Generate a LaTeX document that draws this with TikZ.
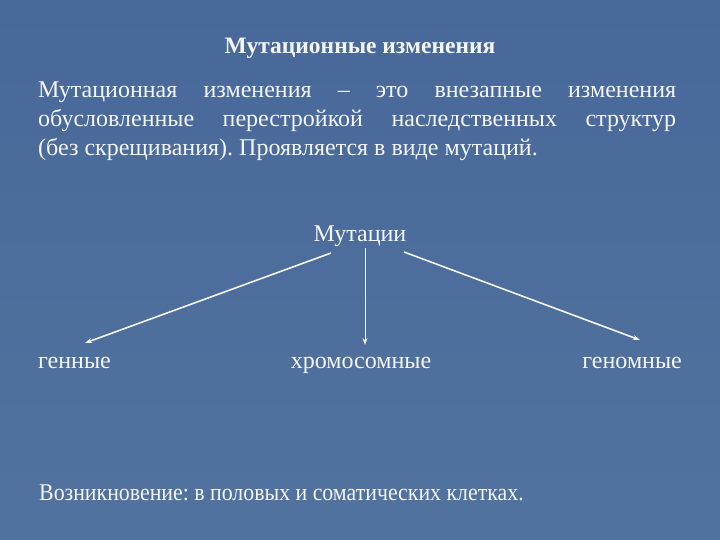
\documentclass[tikz,border=0pt]{standalone}
\usepackage{fontspec}
\setmainfont{Liberation Serif}
\newfontfamily\narrowserif[FakeStretch=0.91]{Liberation Serif}
\usetikzlibrary{arrows.meta}
\frenchspacing
\definecolor{bgtop}{HTML}{48689A}
\definecolor{bgbot}{HTML}{52729E}
\definecolor{txt}{HTML}{F4F6FA}
\tikzset{
  lbl/.style={text=txt, inner sep=0pt, font=\fontsize{24}{29}\selectfont},
  narrowlbl/.style={text=txt, inner sep=0pt, font=\narrowserif\fontsize{24}{29}\selectfont},
  ttl/.style={text=txt, inner sep=0pt, font=\fontsize{23.5}{28}\selectfont\bfseries},
  arr/.style={draw=txt, line width=1.6pt, -{Stealth[length=7pt,width=5pt]}},
  arrthin/.style={draw=txt, line width=0.9pt, -{Stealth[length=7pt,width=5pt]}}
}
\begin{document}
\begin{tikzpicture}[x=1pt,y=-1pt]
\useasboundingbox (0,0) rectangle (720,540);
\shade[top color=bgtop, bottom color=bgbot] (0,0) rectangle (720,540);

\node[ttl, anchor=base] (title) at (360,54) {Мутационные изменения};

\node[lbl, anchor=base west, text width=638pt, align=justify] (def) at (38,98)
{\tolerance=10000\hyphenpenalty=10000\frenchspacing
Мутационная изменения – это внезапные изменения\linebreak
обусловленные перестройкой наследственных структур\linebreak
(без скрещивания). Проявляется в виде мутаций.};

\node[lbl, anchor=base] (mut) at (360,241) {Мутации};

\node[lbl, anchor=base west] (gen) at (38,368) {генные};
\node[lbl, anchor=base] (chr) at (361,368) {хромосомные};
\node[lbl, anchor=base east] (genom) at (682,368) {геномные};

\node[narrowlbl, anchor=base west] (voz) at (39,500) {Возникновение: в половых и соматических клетках.};

\coordinate (sl) at (331,253);
\coordinate (sm) at (365,248);
\coordinate (sr) at (404,252);
\coordinate (tl) at (85,343);
\coordinate (tm) at (365,345);
\coordinate (tr) at (640,340);

\draw[arr] (sl) -- (tl);
\draw[arrthin] (sm) -- (tm);
\draw[arr] (sr) -- (tr);
\end{tikzpicture}
\end{document}
